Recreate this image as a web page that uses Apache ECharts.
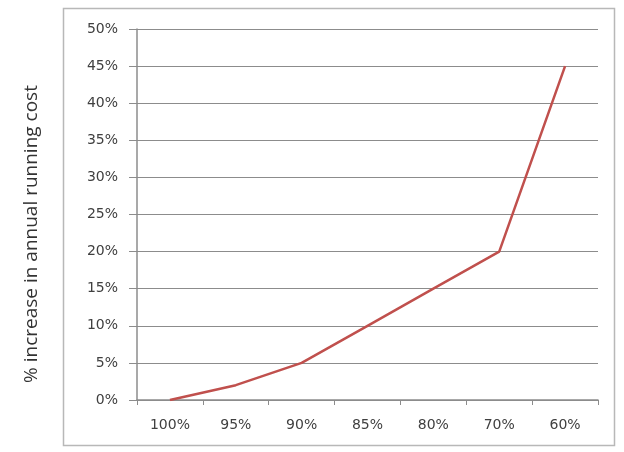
<!DOCTYPE html>
<html>
<head>
<meta charset="utf-8">
<script src="https://cdn.jsdelivr.net/npm/echarts@6/dist/echarts.min.js"></script>
<style>
html,body{margin:0;padding:0;background:#fff;}
#c{width:624px;height:452px;}
</style>
</head>
<body>
<div id="c"></div>
<script>
const categories = ['100%', '95%', '90%', '85%', '80%', '70%', '60%'];
const costIncrease = [0, 2, 5, 10, 15, 20, 45];
const yTitle = '% increase in annual running cost';

const chart = echarts.init(document.getElementById('c'));
const font = 'Open Sans, Liberation Sans, sans-serif';
const tickFont = 'DejaVu Sans, sans-serif';
chart.setOption({
  animation: false,
  backgroundColor: '#fff',
  graphic: [{
    type: 'rect',
    shape: { x: 63.5, y: 8.5, width: 551, height: 437 },
    style: { fill: 'none', stroke: '#b8b8b8', lineWidth: 1.5 },
    silent: true
  }, {
    type: 'text',
    x: 32, y: 234,
    rotation: Math.PI / 2,
    style: {
      text: yTitle,
      fill: '#333',
      font: '19px ' + font,
      align: 'center',
      verticalAlign: 'middle'
    },
    silent: true
  }],
  grid: { left: 137, right: 26, top: 29, bottom: 52 },
  xAxis: {
    type: 'category',
    data: categories,
    boundaryGap: true,
    axisLine: { lineStyle: { color: '#8c8c8c', width: 1.5 } },
    axisTick: { show: true, length: 5, lineStyle: { color: '#8c8c8c' } },
    axisLabel: { color: '#404040', fontSize: 14, fontFamily: tickFont, margin: 18 }
  },
  yAxis: {
    type: 'value',
    min: 0, max: 50, interval: 5,
    axisLine: { show: true, lineStyle: { color: '#8c8c8c', width: 1.5 } },
    axisTick: { show: true, length: 8, lineStyle: { color: '#8c8c8c' } },
    axisLabel: { color: '#404040', fontSize: 14, fontFamily: tickFont, margin: 19, formatter: '{value}%' },
    splitLine: { lineStyle: { color: '#8c8c8c', width: 1 } }
  },
  series: [{
    type: 'line',
    data: costIncrease,
    symbol: 'none',
    lineStyle: { color: '#c0504d', width: 2.5 }
  }]
});
</script>
</body>
</html>
